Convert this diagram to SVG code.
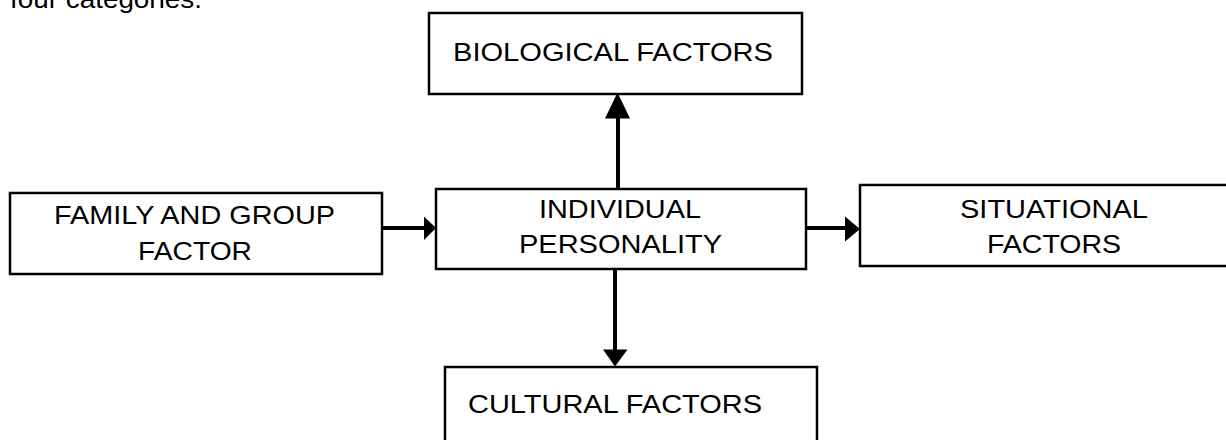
<svg xmlns="http://www.w3.org/2000/svg" width="1226" height="440" viewBox="0 0 1226 440">
<style>
.box{fill:#fff;stroke:#000;stroke-width:2.5}
.t{font-family:"Liberation Sans",Arial,sans-serif;font-size:25px;fill:#000}
.line{stroke:#000;stroke-width:4;fill:none}
.head{fill:#000}
</style>
<rect width="1226" height="440" fill="#fff"/>
<text class="t" x="10" y="7.5" textLength="192" lengthAdjust="spacingAndGlyphs">four categories.</text>
<g id="connectors">
<line class="line" x1="618" y1="189" x2="618" y2="116"/>
<polygon class="head" points="617.5,92.5 605,118.5 630,118.5"/>
<line class="line" x1="615" y1="269" x2="615" y2="351"/>
<polygon class="head" points="615,366.5 603,349.5 627.5,349.5"/>
<line class="line" x1="382" y1="228" x2="426" y2="228"/>
<polygon class="head" points="436,228 424,216.5 424,240"/>
<line class="line" x1="806" y1="228" x2="847" y2="228"/>
<polygon class="head" points="860,229 845,216.5 845,241.5"/>
</g>
<g id="biological">
<rect class="box" x="429" y="13" width="373" height="81"/>
<text class="t" x="453" y="61" textLength="320" lengthAdjust="spacingAndGlyphs">BIOLOGICAL FACTORS</text>
</g>
<g id="individual">
<rect class="box" x="436" y="189" width="370" height="80"/>
<text class="t" x="539" y="218" textLength="162" lengthAdjust="spacingAndGlyphs">INDIVIDUAL</text>
<text class="t" x="519" y="253" textLength="203" lengthAdjust="spacingAndGlyphs">PERSONALITY</text>
</g>
<g id="family">
<rect class="box" x="10" y="193" width="372" height="81"/>
<text class="t" x="54" y="224" textLength="281" lengthAdjust="spacingAndGlyphs">FAMILY AND GROUP</text>
<text class="t" x="138" y="260" textLength="114" lengthAdjust="spacingAndGlyphs">FACTOR</text>
</g>
<g id="situational">
<rect class="box" x="860" y="185" width="370" height="81"/>
<text class="t" x="960" y="218" textLength="188" lengthAdjust="spacingAndGlyphs">SITUATIONAL</text>
<text class="t" x="987" y="253" textLength="134" lengthAdjust="spacingAndGlyphs">FACTORS</text>
</g>
<g id="cultural">
<rect class="box" x="445" y="367" width="372" height="80"/>
<text class="t" x="468" y="413" textLength="294" lengthAdjust="spacingAndGlyphs">CULTURAL FACTORS</text>
</g>
</svg>
